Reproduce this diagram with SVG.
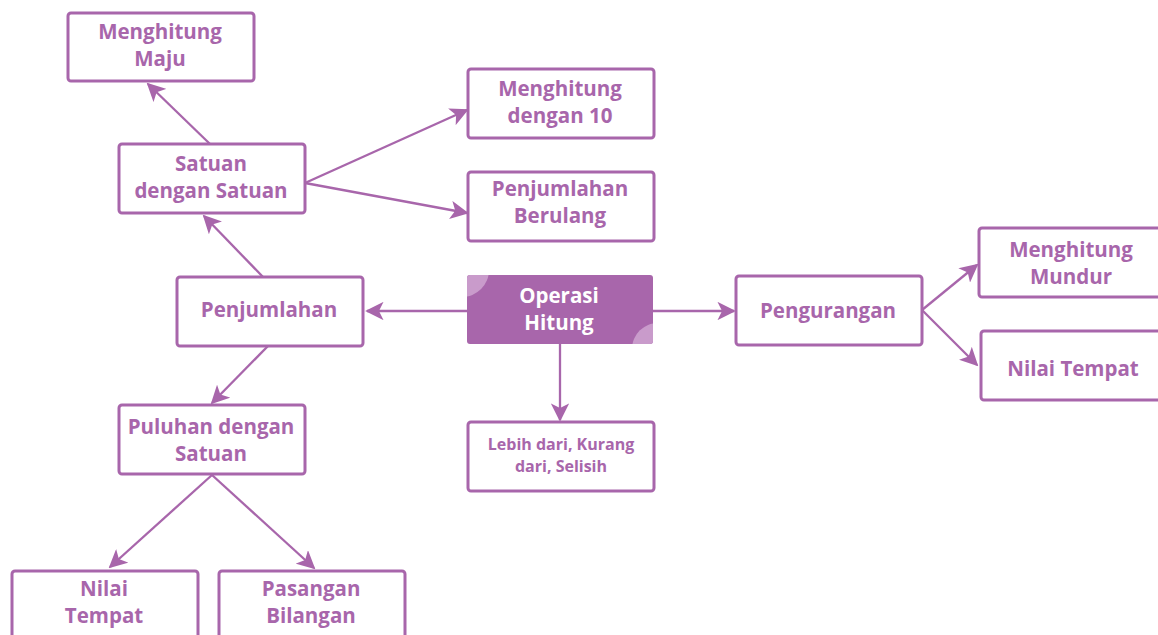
<svg xmlns="http://www.w3.org/2000/svg" width="1158" height="635" viewBox="0 0 1158 635">
<defs>
<style>
.box{fill:#fff;stroke:#a866ab;stroke-width:3}
.t{font-family:"Open Sans","Noto Sans",sans-serif;font-weight:700;font-size:20.5px;fill:#a866ab;text-anchor:middle}
.s{font-size:16px}
.w{fill:#fff}
.c{stroke:#a866ab;stroke-width:2.3;fill:none;marker-end:url(#ah)}
</style>
<marker id="ah" viewBox="0 0 10 10" refX="9" refY="5" markerWidth="8" markerHeight="8" orient="auto" markerUnits="strokeWidth">
<path d="M0,0 L10,5 L0,10 L2.5,5 Z" fill="#a866ab"/>
</marker>
<clipPath id="cc"><rect x="467" y="275" width="186" height="69" rx="3"/></clipPath>
</defs>
<rect width="1158" height="635" fill="#fff"/>
<g id="connectors">
<line class="c" x1="467" y1="311" x2="367" y2="311"/>
<line class="c" x1="653" y1="311" x2="734" y2="311"/>
<line class="c" x1="560" y1="344" x2="560" y2="420"/>
<line class="c" x1="263" y1="277" x2="204" y2="216"/>
<line class="c" x1="210" y1="144" x2="148" y2="84"/>
<line class="c" x1="305" y1="183" x2="467" y2="110"/>
<line class="c" x1="305" y1="183" x2="467" y2="213"/>
<line class="c" x1="268" y1="346" x2="212" y2="403"/>
<line class="c" x1="212" y1="475" x2="110" y2="567"/>
<line class="c" x1="212" y1="475" x2="314" y2="568"/>
<line class="c" x1="922" y1="310" x2="977" y2="265"/>
<line class="c" x1="922" y1="310" x2="977" y2="365"/>
</g>
<g id="menghitung-maju"><rect class="box" x="68" y="13" width="186" height="68" rx="3"/><text class="t" x="160" y="39">Menghitung</text><text class="t" x="160" y="66">Maju</text></g>
<g id="satuan"><rect class="box" x="119" y="144" width="186" height="69" rx="3"/><text class="t" x="211" y="171">Satuan</text><text class="t" x="211" y="198">dengan Satuan</text></g>
<g id="menghitung-10"><rect class="box" x="468" y="69" width="186" height="69" rx="3"/><text class="t" x="560" y="96">Menghitung</text><text class="t" x="560" y="123">dengan 10</text></g>
<g id="penjumlahan-berulang"><rect class="box" x="468" y="172" width="186" height="69" rx="3"/><text class="t" x="560" y="196">Penjumlahan</text><text class="t" x="560" y="223">Berulang</text></g>
<g id="penjumlahan"><rect class="box" x="177" y="277" width="186" height="69" rx="3"/><text class="t" x="269" y="317">Penjumlahan</text></g>
<g id="operasi-hitung"><rect x="467" y="275" width="186" height="69" rx="3" fill="#a866ab"/><g clip-path="url(#cc)" fill="#c99bcb"><circle cx="462" cy="270" r="27"/><circle cx="658" cy="349" r="26"/></g><text class="t w" x="559" y="303">Operasi</text><text class="t w" x="559" y="330">Hitung</text></g>
<g id="pengurangan"><rect class="box" x="736" y="276" width="186" height="69" rx="3"/><text class="t" x="828" y="318">Pengurangan</text></g>
<g id="menghitung-mundur"><rect class="box" x="979" y="228" width="186" height="69" rx="3"/><text class="t" x="1071" y="257">Menghitung</text><text class="t" x="1071" y="284">Mundur</text></g>
<g id="nilai-tempat-kanan"><rect class="box" x="981" y="331" width="186" height="69" rx="3"/><text class="t" x="1073" y="376">Nilai Tempat</text></g>
<g id="lebih-dari"><rect class="box" x="468" y="422" width="186" height="69" rx="3"/><text class="t s" x="561" y="450">Lebih dari, Kurang</text><text class="t s" x="561" y="472">dari, Selisih</text></g>
<g id="puluhan"><rect class="box" x="119" y="405" width="186" height="69" rx="3"/><text class="t" x="211" y="434">Puluhan dengan</text><text class="t" x="211" y="461">Satuan</text></g>
<g id="nilai-tempat-bawah"><rect class="box" x="12" y="571" width="186" height="69" rx="3"/><text class="t" x="104" y="596">Nilai</text><text class="t" x="104" y="623">Tempat</text></g>
<g id="pasangan-bilangan"><rect class="box" x="219" y="571" width="186" height="69" rx="3"/><text class="t" x="311" y="596">Pasangan</text><text class="t" x="311" y="623">Bilangan</text></g>
</svg>
